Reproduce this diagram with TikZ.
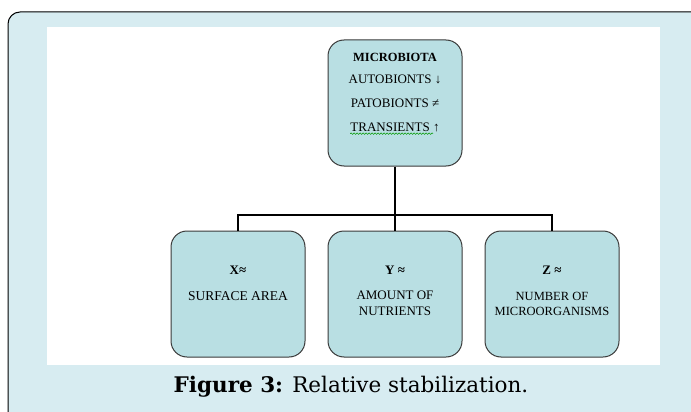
\documentclass[tikz,border=0pt]{standalone}
\usepackage{fontspec}
\setmainfont{Liberation Serif}
\newfontfamily\capfont{DejaVu Serif}
\usetikzlibrary{decorations.pathmorphing}
\definecolor{framebg}{HTML}{D7ECF1}
\definecolor{boxbg}{HTML}{B9DFE3}
\definecolor{boxline}{HTML}{3A3A3A}
\tikzset{
  mbox/.style={draw=boxline, line width=1pt, fill=boxbg, rounded corners=16pt,
    minimum width=134pt, minimum height=126pt, inner sep=0pt},
  txt/.style={font=\fontsize{13}{16}\selectfont, inner sep=0pt, align=center},
  btxt/.style={font=\fontsize{13}{16}\selectfont\bfseries, inner sep=0pt, align=center},
  conn/.style={line width=2.8pt, black}
}
\begin{document}
\begin{tikzpicture}[x=1pt,y=-1pt]
\useasboundingbox (0,0) rectangle (691,412);
\fill[white] (0,0) rectangle (691,412);
\draw[line width=1pt, fill=framebg, rounded corners=12pt] (8,12) rectangle (720,440);
\fill[white] (47,27) rectangle (660,365);
% boxes
\node[mbox] (top) at (395,103) {};
\node[mbox] (bx) at (238,294) {};
\node[mbox] (by) at (395,294) {};
\node[mbox] (bz) at (552,294) {};
% connectors
\coordinate (j) at (395,215);
\coordinate (jx) at (238,215);
\coordinate (jz) at (552,215);
\draw[conn] (top.south) -- (j);
\draw[conn, line cap=rect] (jx) -- (jz);
\draw[conn] (jx) -- (bx.north);
\draw[conn] (j) -- (by.north);
\draw[conn] (jz) -- (bz.north);
% top text
\node[btxt, font=\fontsize{12.5}{15}\selectfont\bfseries] (t1) at (395,57) {MICROBIOTA};
\node[txt] (t2) at (395,79) {AUTOBIONTS ↓};
\node[txt] (t3) at (395,103) {PATOBIONTS ≠};
\node[txt] (t4) at (395,127) {TRANSIENTS ↑};
\draw[green!60!black, line width=0.5pt, decorate, decoration={snake, amplitude=0.8pt, segment length=3pt}]
  (t4.south west) ++(0,2) -- ++(83,0);
% bottom text
\node[btxt] (x1) at (238,270) {X≈};
\node[txt, font=\fontsize{13.5}{16}\selectfont] (x2) at (238,296) {SURFACE AREA};
\node[btxt] (y1) at (395,270) {Y ≈};
\node[txt] (y2) at (395,303) {AMOUNT OF\\NUTRIENTS};
\node[btxt] (z1) at (552,270) {Z ≈};
\node[txt, font=\fontsize{12.5}{14.5}\selectfont] (z2) at (552,304) {NUMBER OF\\MICROORGANISMS};
% caption
\node[inner sep=0pt, font=\capfont\fontsize{21.5}{24}\selectfont] (cap) at (351,387) {\textbf{Figure 3:} Relative stabilization.};
\end{tikzpicture}
\end{document}
